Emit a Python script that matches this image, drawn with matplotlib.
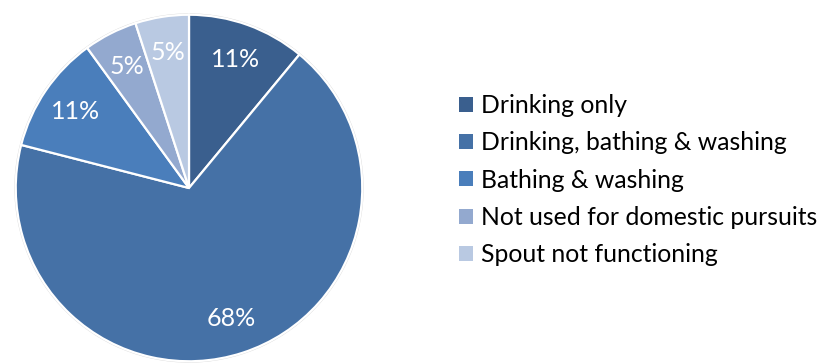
import matplotlib
matplotlib.use("Agg")
import matplotlib.pyplot as plt
from matplotlib.patches import Patch

plt.rcParams['font.family'] = ['Lato', 'DejaVu Sans']

categories = ["Drinking only", "Drinking, bathing & washing", "Bathing & washing",
              "Not used for domestic pursuits", "Spout not functioning"]
shares = [11, 68, 11, 5, 5]
colors = ["#3A5F8E", "#4571A6", "#4A7EBB", "#93A9CF", "#B9C9E2"]

W, H = 817, 364
fig = plt.figure(figsize=(W / 100, H / 100), dpi=100)
fig.patch.set_facecolor("white")

# square axes holding the pie: centre (189, 188) px, radius 175 px
cx, cy, r = 189, 188, 175
ax = fig.add_axes([(cx - r) / W, (H - cy - r) / H, 2 * r / W, 2 * r / H])

wedges, texts, autotexts = ax.pie(
    shares, colors=colors, startangle=90, counterclock=False,
    autopct=lambda p: f"{p:.0f}%", pctdistance=0.79, radius=1.0,
    wedgeprops=dict(edgecolor="white", linewidth=1.6),
    textprops=dict(color="white", fontsize=18))
ax.set_xlim(-1.01, 1.01)
ax.set_ylim(-1.01, 1.01)
ax.set_aspect("equal")
ax.axis("off")

# faint soft rim around the pie
rim = plt.Circle((0, 0), 1.0, fill=False, edgecolor="#d8d8d8", linewidth=2.0, zorder=0)
ax.add_patch(rim)

handles = [Patch(facecolor=c, edgecolor="none") for c in colors]
fig.legend(handles, categories, loc="center left",
           bbox_to_anchor=(459 / W, 1 - 180 / H),
           frameon=False, fontsize=17.8, handlelength=0.55, handleheight=0.55,
           handletextpad=0.35, labelspacing=0.58, borderpad=0, borderaxespad=0)

fig.savefig("out.png", dpi=100, facecolor="white")
